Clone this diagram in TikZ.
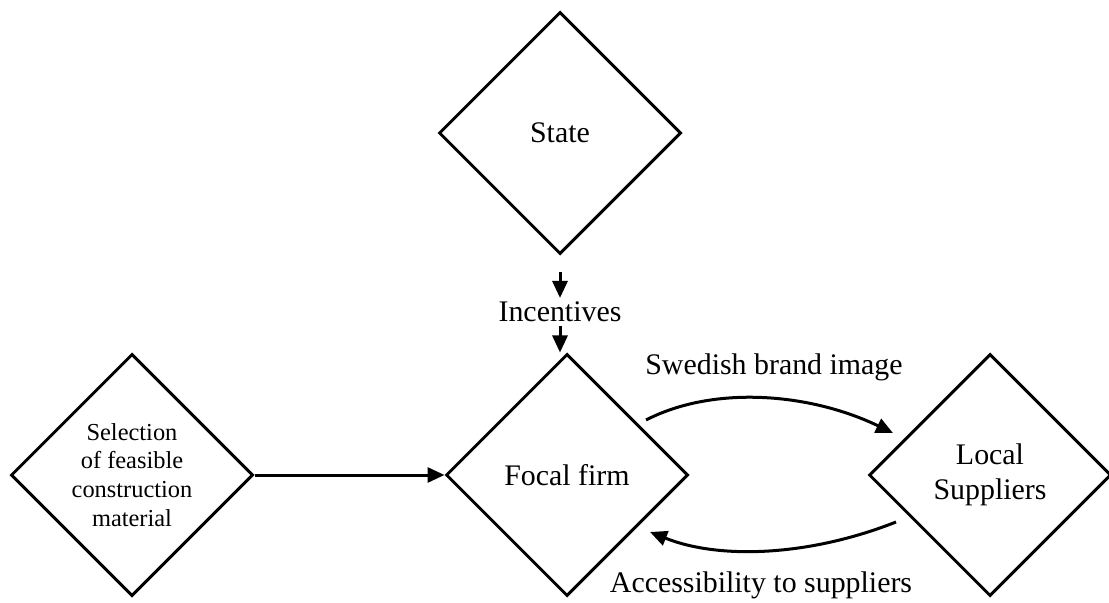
\documentclass[tikz,border=0pt]{standalone}
\usepackage{fontspec}
\setmainfont{Liberation Serif}
\usetikzlibrary{shapes.geometric,arrows.meta,calc}
\begin{document}
\begin{tikzpicture}[x=1bp,y=-1bp,
  box/.style={draw,line width=3bp,diamond,minimum width=242bp,minimum height=242bp,inner sep=0pt,
    font=\fontsize{30}{35}\selectfont,align=center},
  lbl/.style={inner sep=0pt,font=\fontsize{30}{35}\selectfont},
  arr/.style={line width=3bp,-{Triangle[length=17bp,width=15bp]}}]
\useasboundingbox (0,0) rectangle (1109,603);
% actors
\node[box] (state) at (560,133) {State};
\node[box] (focal) at (567,475) {Focal firm};
\node[box,font=\fontsize{24.5}{29}\selectfont] (sel) at (132,475) {Selection\\of feasible\\construction\\material};
\node[box] (local) at (990,475) {Local\\Suppliers};
% labels
\node[lbl,outer sep=4bp] (inc) at (560,312) {Incentives};
\node[lbl] (swe) at (774,367) {Swedish brand image};
\node[lbl] (acc) at (761,585) {Accessibility to suppliers};
% end points of the curved links
\coordinate (s1) at ($(focal.center)+(79,-55)$);
\coordinate (s2) at ($(local.center)+(-97,-42)$);
\coordinate (a1) at ($(local.center)+(-94,47)$);
\coordinate (a2) at ($(focal.center)+(83,57)$);
% links
\draw[arr] ($(state.south)+(0,16)$) -- (inc.north);
\draw[arr] (inc.south) -- (inc.south |- focal.north);
\draw[arr] (sel.east) -- (focal.west);
\draw[arr] (s1) .. controls ($(s1)+(68,-35)$) and ($(s2)+(-83,-40)$) .. (s2);
\draw[arr] (a1) .. controls ($(a1)+(-86,34)$) and ($(a2)+(70,28)$) .. (a2);
\end{tikzpicture}
\end{document}
